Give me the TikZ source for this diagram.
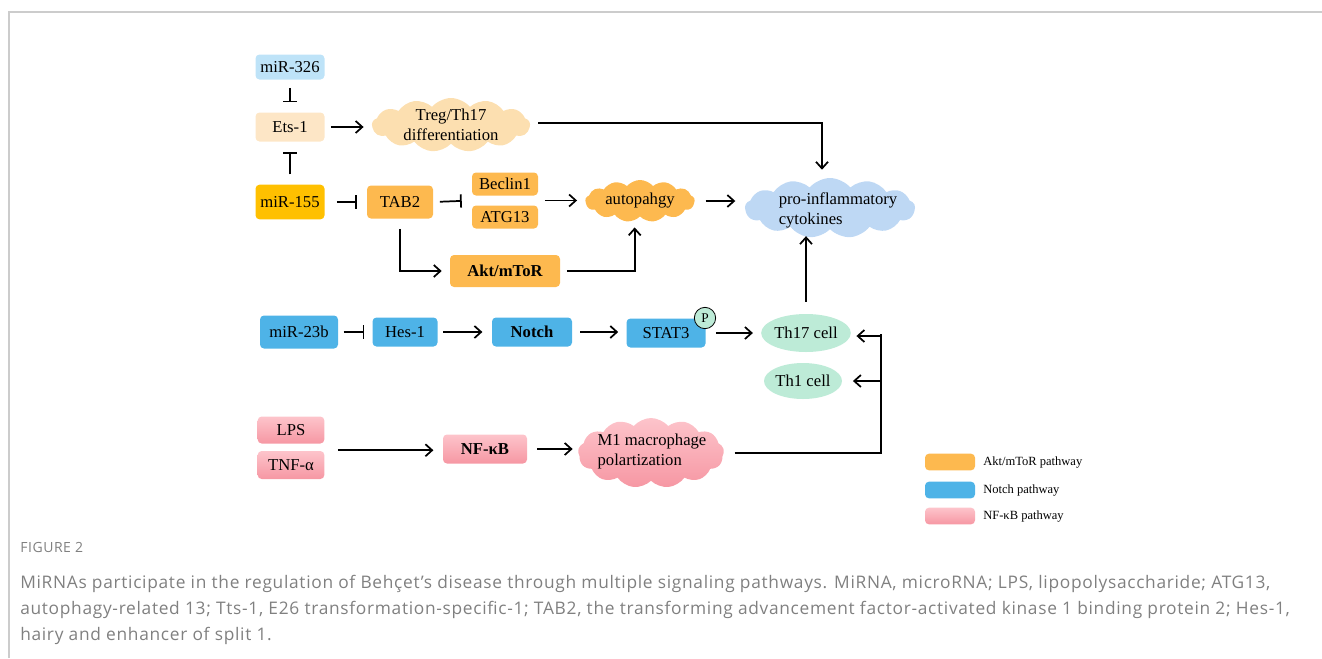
\documentclass[tikz,border=0pt]{standalone}
\usepackage{fontspec}
\setmainfont{Liberation Serif}
\newfontfamily\capfont[LetterSpace=4]{Open Sans}
\usetikzlibrary{arrows.meta,shapes.symbols,shapes.geometric,calc}
\definecolor{lblue}{HTML}{BEE3F8}
\definecolor{peach}{HTML}{FDE6C6}
\definecolor{peachc}{HTML}{FCDFB0}
\definecolor{gold}{HTML}{FFC000}
\definecolor{orng}{HTML}{FDB94F}
\definecolor{cblue}{HTML}{BED8F4}
\definecolor{nblue}{HTML}{4EB3E7}
\definecolor{mint}{HTML}{BDEBD7}
\definecolor{pinkT}{HTML}{FDC4CB}
\definecolor{pinkB}{HTML}{F697A3}
\definecolor{framec}{HTML}{CCCCCC}
\definecolor{capgray}{HTML}{808080}
\tikzset{
  nfont/.style={font=\fontsize{12.5}{15}\selectfont},
  box/.style={rounded corners=3pt, inner sep=0pt, nfont},
  pbox/.style={box, top color=pinkT, bottom color=pinkB},
  cld/.style={cloud, cloud puffs=13, cloud puff arc=100, cloud ignores aspect, inner sep=0pt},
  ctext/.style={inner sep=0pt, nfont},
  cell/.style={ellipse, fill=mint, inner sep=0pt, nfont},
  arr/.style={line width=1.3pt, -{Straight Barb[length=5pt,width=9pt]}},
  inh/.style={line width=1.3pt, -{Bar[width=10pt]}},
  plain/.style={line width=1.3pt},
  legtxt/.style={anchor=west, inner sep=0pt, font=\fontsize{9.4}{11}\selectfont},
  captxt/.style={anchor=base west, inner sep=0pt, text=capgray, font=\capfont\fontsize{13}{15}\selectfont},
}
\begin{document}
\begin{tikzpicture}[x=0.75pt,y=-0.75pt]
\useasboundingbox (0,0) rectangle (1322,658);
\draw[framec, line width=0.8pt] (9,658) -- (9,12) -- (1322,12);

% top: Ets-1 / Akt pathway
\node[box, fill=lblue, minimum width=51.75pt, minimum height=18.75pt] (m326) at (290,67) {miR-326};
\node[box, fill=peach, minimum width=51.75pt, minimum height=21.75pt] (ets) at (290,127) {Ets-1};
\node[box, fill=gold, minimum width=51.75pt, minimum height=26pt] (m155) at (290,202) {miR-155};
\node[box, fill=orng, minimum width=49.5pt, minimum height=24.75pt] (tab2) at (400,202) {TAB2};
\node[box, fill=orng, minimum width=49.5pt, minimum height=17.25pt] (becl) at (505,184) {Beclin1};
\node[box, fill=orng, minimum width=49.5pt, minimum height=17.25pt] (atg) at (505,217) {ATG13};
\node[box, fill=orng, minimum width=82.5pt, minimum height=24pt, font=\fontsize{12.5}{14}\selectfont\bfseries] (akt) at (505,271) {Akt/mToR};
\node[cld, fill=orng, minimum width=82pt, minimum height=31.5pt] (auto) at (640,201) {};
\node[ctext] (autot) at (auto) {autopahgy};
\node[cld, fill=cblue, minimum width=127.5pt, minimum height=45pt] (cyto) at (830,208) {};
\node[ctext, align=left] (cytot) at (838,210) {pro-inflammatory\\cytokines};
\node[cld, fill=peachc, minimum width=118.5pt, minimum height=40.5pt] (treg) at (451,125) {};
\node[ctext, align=center] (tregt) at (treg) {Treg/Th17\\differentiation};

% Notch pathway
\node[box, fill=nblue, minimum width=58.5pt, minimum height=24.75pt] (m23b) at (299,332) {miR-23b};
\node[box, fill=nblue, minimum width=48.75pt, minimum height=21.75pt] (hes) at (405,332) {Hes-1};
\node[box, fill=nblue, minimum width=60pt, minimum height=21.75pt, font=\fontsize{12.5}{14}\selectfont\bfseries] (notch) at (532,332) {Notch};
\node[box, fill=nblue, minimum width=59.25pt, minimum height=21.75pt] (stat) at (666,333) {STAT3};
\node[circle, draw, fill=mint, line width=0.6pt, minimum size=16pt, inner sep=0pt, font=\fontsize{10}{12}\selectfont] (p) at (705,318) {P};
\node[cell, minimum width=63pt, minimum height=28.5pt] (th17) at (806,333) {Th17 cell};
\node[cell, minimum width=58.5pt, minimum height=27pt] (th1) at (803,381) {Th1 cell};

% NF-kB pathway
\node[pbox, minimum width=50pt, minimum height=20.25pt] (lps) at (291,430) {LPS};
\node[pbox, minimum width=50pt, minimum height=21pt] (tnf) at (291,465) {TNF-α};
\node[pbox, minimum width=63pt, minimum height=21.75pt, font=\fontsize{12.5}{14}\selectfont\bfseries] (nfkb) at (485,449) {NF-κB};
\node[cld, top color=pinkT, bottom color=pinkB, minimum width=109.5pt, minimum height=52.5pt] (m1) at (651,453) {};
\node[ctext, align=left] (m1t) at (652,451) {M1 macrophage\\polartization};

% connectors
\coordinate (ba) at ($(becl.south west)!0.5!(atg.north west)$);
\coordinate (be) at ($(becl.south east)!0.5!(atg.north east)$);
\coordinate (lt) at ($(lps.south east)!0.5!(tnf.north east)+(0,3)$);
\coordinate (jx) at (881,453);

\draw[inh, shorten <=6pt, shorten >=7.5pt] (m326) -- (ets);
\draw[inh, shorten <=7.5pt, shorten >=7.5pt] (m155) -- (ets);
\draw[inh, shorten <=9pt, shorten >=7.5pt] (m155) -- (tab2);
\draw[inh, shorten <=5pt, shorten >=7.5pt] (tab2.east) -- (ba);
\draw[arr, shorten <=5pt, shorten >=6pt] (be) -- (be -| auto.west);
\draw[arr, shorten <=8pt, shorten >=7pt] (auto.east) -- (auto.east -| cyto.west);
\draw[arr, shorten <=7.5pt, shorten >=6pt] (tab2.south) |- (akt.west);
\draw[arr, shorten <=5pt, shorten >=8pt] (akt.east) -| ([xshift=-4pt]auto.south);
\draw[arr, shorten <=4.5pt, shorten >=6pt] (ets.east) -- (ets.east -| treg.west);
\draw[arr, shorten <=6pt, shorten >=6pt] ([yshift=1.5pt]treg.east) -| ([xshift=-6pt]cyto.north);
\draw[arr, shorten <=9pt, shorten >=5pt] (th17.north) -- (th17.north |- cyto.south);

\draw[inh, shorten <=4pt, shorten >=6pt] (m23b) -- (hes);
\draw[arr, shorten <=4pt, shorten >=7pt] (hes) -- (notch);
\draw[arr, shorten <=6pt, shorten >=6pt] (notch) -- (stat.west |- notch.east);
\draw[arr, shorten <=7.5pt, shorten >=6pt] (stat) -- (th17);

\draw[arr, shorten <=10pt, shorten >=7pt] (lt) -- (lt -| nfkb.west);
\draw[arr, shorten <=7.5pt, shorten >=4pt] (nfkb) -- (nfkb -| m1.west);
\draw[plain, shorten <=8pt] (m1.east |- jx) -- (jx) -- ([yshift=-0.65pt]jx |- th17.east);
\draw[arr, shorten >=4pt] ([yshift=-2.25pt]jx |- th17.east) -- ([yshift=-2.25pt]th17.east);
\draw[arr, shorten >=8pt] (jx |- th1.east) -- (th1.east);

% legend
\node[box, fill=orng, minimum width=37.5pt, minimum height=12.5pt] (lg1) at (950,462) {};
\node[box, fill=nblue, minimum width=37.5pt, minimum height=12.5pt] (lg2) at (950,490) {};
\node[box, top color=pinkT, bottom color=pinkB, minimum width=37.5pt, minimum height=12.5pt] (lg3) at (950,516) {};
\node[legtxt] (lt1) at (983,462) {Akt/mToR pathway};
\node[legtxt] (lt2) at (983,490) {Notch pathway};
\node[legtxt] (lt3) at (983,516) {NF-κB pathway};

% caption
\node[anchor=base west, inner sep=0pt, text=capgray, font=\capfont\fontsize{10.5}{12}\selectfont] (fig) at (20,552) {FIGURE 2};
\node[captxt] (c1) at (20,588) {MiRNAs participate in the regulation of Behçet’s disease through multiple signaling pathways. MiRNA, microRNA; LPS, lipopolysaccharide; ATG13,};
\node[captxt] (c2) at (20,614) {autophagy-related 13; Tts-1, E26 transformation-specific-1; TAB2, the transforming advancement factor-activated kinase 1 binding protein 2; Hes-1,};
\node[captxt] (c3) at (20,640) {hairy and enhancer of split 1.};
\end{tikzpicture}
\end{document}
